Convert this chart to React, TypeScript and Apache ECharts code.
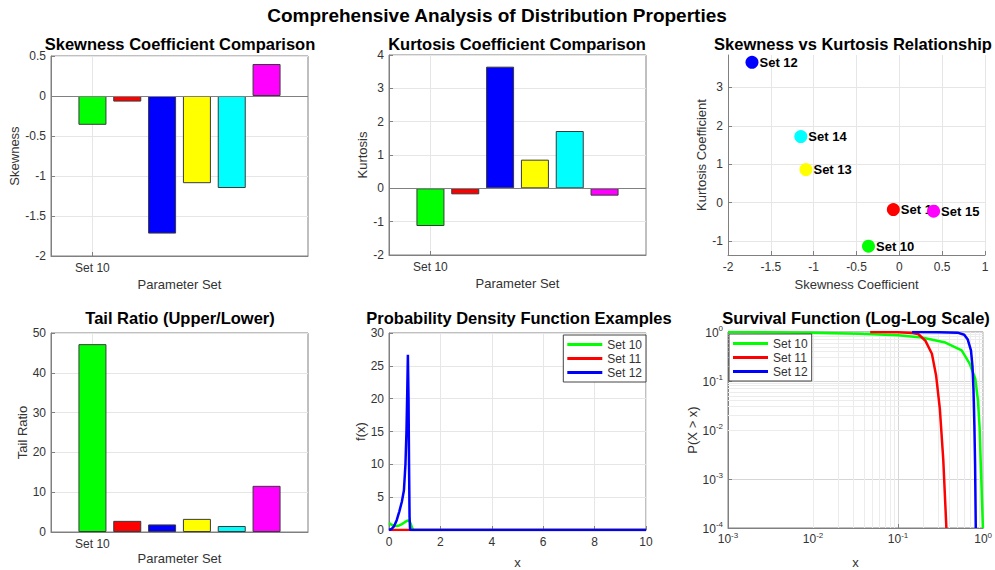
import React, { useEffect, useRef } from 'react';
import * as echarts from 'echarts';

// ---------- data ----------
const setNames = ['Set 10', 'Set 11', 'Set 12', 'Set 13', 'Set 14', 'Set 15'];
const setColors = ['#00ff00', '#ff0000', '#0000ff', '#ffff00', '#00ffff', '#ff00ff'];
const barPositions = [1, 2, 3, 4, 5, 6];
const skewness = [-0.36, -0.07, -1.72, -1.09, -1.15, 0.4];
const kurtosis = [-1.13, -0.18, 3.65, 0.86, 1.72, -0.22];
const tailRatio = [47.2, 2.8, 1.9, 3.3, 1.5, 11.6];

const pdfSets = ['Set 10', 'Set 11', 'Set 12'];
const pdfColors = ['#00ff00', '#ff0000', '#0000ff'];
const pdf10X = [0, 0.1, 0.2, 0.3, 0.4, 0.5, 0.6, 0.7, 0.75, 0.8, 0.85, 0.9, 0.95, 1, 10];
const pdf10Y = [1.05, 0.8, 0.65, 0.62, 0.7, 0.9, 1.15, 1.38, 1.45, 1.35, 0.9, 0.3, 0, 0, 0];
const pdf11X = [0, 1, 10];
const pdf11Y = [0, 0, 0];
const pdf12X = [0, 0.1, 0.2, 0.3, 0.4, 0.5, 0.58, 0.64, 0.68, 0.71, 0.735, 0.76, 0.78, 0.8, 0.82, 1, 10];
const pdf12Y = [0, 0.15, 0.6, 1.5, 2.8, 4.3, 6, 10, 15, 21, 26.7, 20, 10, 2, 0, 0, 0];

const surv10X = [0.001, 0.01, 0.035, 0.1, 0.19, 0.36, 0.56, 0.7, 0.81, 0.87, 0.91, 0.95, 0.995];
const surv10Y = [0.995, 0.97, 0.925, 0.86, 0.77, 0.61, 0.42, 0.22, 0.11, 0.04, 0.011, 0.0011, 0.0001];
const surv11X = [0.047, 0.1, 0.15, 0.174, 0.21, 0.25, 0.28, 0.31, 0.34, 0.37];
const surv11Y = [0.995, 0.985, 0.95, 0.9, 0.66, 0.36, 0.13, 0.027, 0.0025, 0.0001];
const surv12X = [0.146, 0.3, 0.5, 0.6, 0.66, 0.72, 0.75, 0.77, 0.79, 0.805, 0.82];
const surv12Y = [0.998, 0.99, 0.97, 0.88, 0.7, 0.42, 0.2, 0.07, 0.012, 0.002, 0.0001];

const logXMinor = [0.002, 0.003, 0.004, 0.005, 0.006, 0.007, 0.008, 0.009,
  0.02, 0.03, 0.04, 0.05, 0.06, 0.07, 0.08, 0.09,
  0.2, 0.3, 0.4, 0.5, 0.6, 0.7, 0.8, 0.9];
const logYMinor = [0.0002, 0.0003, 0.0004, 0.0005, 0.0006, 0.0007, 0.0008, 0.0009,
  0.002, 0.003, 0.004, 0.005, 0.006, 0.007, 0.008, 0.009,
  0.02, 0.03, 0.04, 0.05, 0.06, 0.07, 0.08, 0.09,
  0.2, 0.3, 0.4, 0.5, 0.6, 0.7, 0.8, 0.9];

// ---------- style ----------
const FONT = 'Liberation Sans, Arial, Helvetica, sans-serif';
const AXIS = '#808080';
const TEXT = '#333333';
const GRIDC = '#e6e6e6';

const zip = (xs: number[], ys: number[]) => xs.map((x, i) => [x, ys[i]]);

const grids = [
  { left: 51, top: 56, width: 257, height: 200, show: true },
  { left: 389, top: 55, width: 257, height: 200, show: true },
  { left: 728, top: 55, width: 257, height: 200, show: false },
  { left: 51, top: 333, width: 257, height: 199, show: true },
  { left: 389, top: 333, width: 257, height: 199, show: true },
  { left: 728, top: 332, width: 257, height: 200, show: true },
].map((g) => ({ ...g, borderColor: AXIS, borderWidth: 1, backgroundColor: 'transparent' }));

const labelStyle = { fontSize: 12, lineHeight: 12, color: TEXT, fontFamily: FONT };
const nameStyle = { fontSize: 13, color: TEXT, fontFamily: FONT };

function baseAxis(gi: number, extra: any) {
  return {
    gridIndex: gi,
    axisLine: { show: true, onZero: false, lineStyle: { color: AXIS, width: 1 } },
    axisTick: { show: true, inside: true, length: 4, lineStyle: { color: AXIS } },
    splitLine: { show: true, lineStyle: { color: GRIDC, width: 1 } },
    nameLocation: 'middle',
    nameTextStyle: nameStyle,
    ...extra,
    axisLabel: { ...labelStyle, ...(extra.axisLabel || {}) },
  };
}

function barXAxis(gi: number, nameGap: number) {
  return baseAxis(gi, {
    type: 'value', min: -0.19, max: 7.19,
    axisTick: { show: true, inside: true, length: 4, customValues: [barPositions[0]], lineStyle: { color: AXIS } },
    axisLabel: { customValues: [barPositions[0]], formatter: (v: number) => setNames[Math.round(v) - 1], margin: 6 },
    name: 'Parameter Set', nameGap,
  });
}

const supFmt = (v: number) => `{b|10}{s|${Math.round(Math.log10(v))}}`;
const supRich = {
  b: { fontSize: 12, color: TEXT, fontFamily: FONT, verticalAlign: 'bottom', lineHeight: 13 },
  s: { fontSize: 8, color: TEXT, fontFamily: FONT, verticalAlign: 'bottom', lineHeight: 13, padding: [0, 0, 6, 0] },
};

function barSeries(vals: number[], gi: number, baseline: boolean) {
  return {
    type: 'bar', xAxisIndex: gi, yAxisIndex: gi, barWidth: 28,
    data: vals.map((v, i) => ({ value: [barPositions[i], v], itemStyle: { color: setColors[i] } })),
    itemStyle: { borderColor: '#3a3a3a', borderWidth: 1 },
    markLine: baseline
      ? { silent: true, symbol: 'none', label: { show: false }, lineStyle: { color: AXIS, width: 1, type: 'solid' }, data: [{ yAxis: 0 }] }
      : undefined,
  };
}

const titles = [
  { text: 'Skewness Coefficient Comparison', x: 180, y: 44 },
  { text: 'Kurtosis Coefficient Comparison', x: 517, y: 44 },
  { text: 'Skewness vs Kurtosis Relationship', x: 853, y: 44 },
  { text: 'Tail Ratio (Upper/Lower)', x: 180, y: 318 },
  { text: 'Probability Density Function Examples', x: 519, y: 318 },
  { text: 'Survival Function (Log-Log Scale)', x: 856, y: 318 },
];

const legendCommon = {
  data: pdfSets,
  orient: 'vertical',
  icon: 'rect',
  backgroundColor: '#ffffff',
  borderColor: '#444444',
  borderWidth: 1,
  padding: [3, 4, 3, 4],
  itemGap: 1,
  itemWidth: 35,
  itemHeight: 3,
  z: 10,
  textStyle: { fontSize: 12, color: TEXT, fontFamily: FONT, lineHeight: 13 },
};

export default function App() {
  const ref = useRef<HTMLDivElement>(null);
  useEffect(() => {
    if (!ref.current) return;
    const chart = echarts.init(ref.current, undefined, { renderer: 'svg' });
    const option: any = {
      animation: false,
      backgroundColor: '#ffffff',
      textStyle: { fontFamily: FONT },
      grid: grids,
      graphic: [
        {
          type: 'text', x: 497, y: 15,
          style: { text: 'Comprehensive Analysis of Distribution Properties', fontSize: 19, fontWeight: 'bold', fontFamily: FONT, fill: '#000', textAlign: 'center', textVerticalAlign: 'middle' },
        },
        ...titles.map((t) => ({
          type: 'text', x: t.x, y: t.y,
          style: { text: t.text, fontSize: 16.5, lineHeight: 16, fontWeight: 'bold', fontFamily: FONT, fill: '#000', textAlign: 'center', textVerticalAlign: 'middle' },
        })),
      ],
      legend: [
        { ...legendCommon, right: 995 - 646, top: 335 },
        { ...legendCommon, left: 729, top: 334 },
      ],
      xAxis: [
        barXAxis(0, 22),
        barXAxis(1, 22),
        baseAxis(2, { type: 'value', min: -2, max: 1, interval: 0.5, name: 'Skewness Coefficient', nameGap: 23, axisLabel: { margin: 6 } }),
        barXAxis(3, 20),
        baseAxis(4, { type: 'value', min: 0, max: 10, interval: 2, name: 'x', nameGap: 26, axisLabel: { margin: 6 } }),
        baseAxis(5, {
          type: 'log', logBase: 10, min: 0.001, max: 1, name: 'x', nameGap: 28,
          axisLabel: { formatter: supFmt, rich: supRich, margin: 4 },
          splitLine: { show: true, lineStyle: { color: '#d6d6d6', width: 1 } },
        }),
      ],
      yAxis: [
        baseAxis(0, { type: 'value', min: -2, max: 0.5, interval: 0.5, name: 'Skewness', nameGap: 29.5, axisLabel: { margin: 5 } }),
        baseAxis(1, { type: 'value', min: -2, max: 4, interval: 1, name: 'Kurtosis', nameGap: 20.5, axisLabel: { margin: 5 } }),
        baseAxis(2, {
          type: 'value', min: -1.36, max: 3.84, name: 'Kurtosis Coefficient', nameGap: 20,
          axisTick: { show: true, inside: true, length: 4, customValues: [-1, 0, 1, 2, 3], lineStyle: { color: AXIS } },
          axisLabel: { customValues: [-1, 0, 1, 2, 3], margin: 5 },
        }),
        baseAxis(3, { type: 'value', min: 0, max: 50, interval: 10, name: 'Tail Ratio', nameGap: 22.5, axisLabel: { margin: 5 } }),
        baseAxis(4, { type: 'value', min: 0, max: 30, interval: 5, name: 'f(x)', nameGap: 21, axisLabel: { margin: 5 } }),
        baseAxis(5, {
          type: 'log', logBase: 10, min: 0.0001, max: 1, name: 'P(X > x)', nameGap: 28,
          axisLabel: { formatter: supFmt, rich: supRich, margin: 5 },
          splitLine: { show: true, lineStyle: { color: '#d6d6d6', width: 1 } },
        }),
      ],
      series: [
        barSeries(skewness, 0, true),
        barSeries(kurtosis, 1, true),
        barSeries(tailRatio, 3, false),
        ...setNames.map((n, i) => ({
          type: 'scatter', name: 'pt-' + n, xAxisIndex: 2, yAxisIndex: 2, z: 3 + i,
          symbolSize: 13,
          itemStyle: { color: setColors[i], opacity: 1 },
          label: { show: true, position: 'right', distance: 1, formatter: n, fontWeight: 'bold', fontSize: 13, color: '#000', fontFamily: FONT },
          data: [[skewness[i], kurtosis[i]]],
        })),
        ...[[pdf10X, pdf10Y], [pdf11X, pdf11Y], [pdf12X, pdf12Y]].map(([xs, ys], i) => ({
          type: 'line', name: pdfSets[i], xAxisIndex: 4, yAxisIndex: 4, symbol: 'none', showSymbol: false,
          lineStyle: { color: pdfColors[i], width: 2.5 }, itemStyle: { color: pdfColors[i] },
          data: zip(xs, ys),
        })),
        {
          type: 'line', name: 'minorgrid', xAxisIndex: 5, yAxisIndex: 5, z: 1, silent: true, symbol: 'none',
          data: [],
          markLine: {
            z: 1, silent: true, symbol: 'none', label: { show: false },
            lineStyle: { color: '#ececec', width: 1, type: 'solid' },
            data: [...logXMinor.map((v) => ({ xAxis: v })), ...logYMinor.map((v) => ({ yAxis: v }))],
          },
        },
        ...[[surv10X, surv10Y], [surv11X, surv11Y], [surv12X, surv12Y]].map(([xs, ys], i) => ({
          type: 'line', name: pdfSets[i], xAxisIndex: 5, yAxisIndex: 5, symbol: 'none', showSymbol: false, z: 3,
          lineStyle: { color: pdfColors[i], width: 2.5 }, itemStyle: { color: pdfColors[i] },
          data: zip(xs, ys),
        })),
      ],
    };
    chart.setOption(option);
    return () => chart.dispose();
  }, []);
  return <div ref={ref} style={{ position: 'absolute', left: 0, top: 0, width: 995, height: 570 }} />;
}
